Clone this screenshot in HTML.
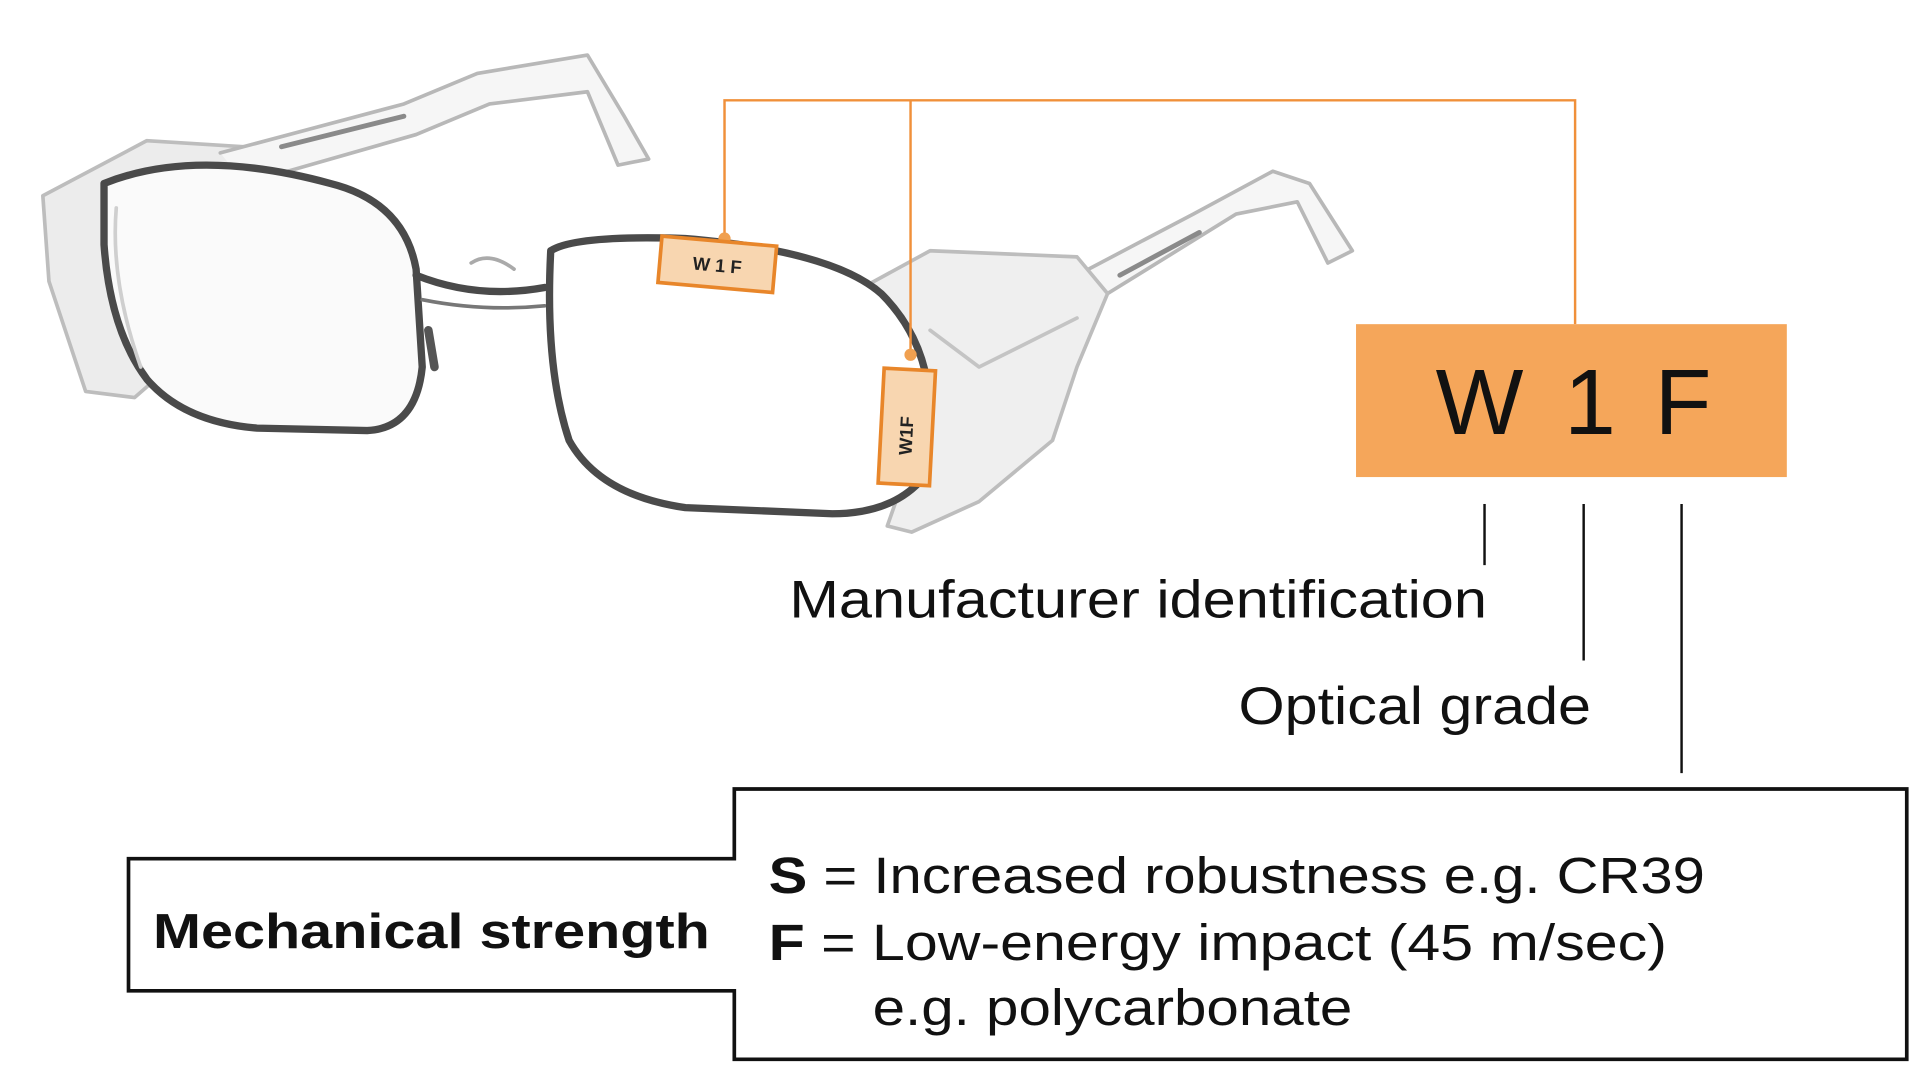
<!DOCTYPE html>
<html><head><meta charset="utf-8"><style>
html,body{margin:0;padding:0;background:#fff;}
svg{display:block;}
</style></head><body>
<svg width="1919" height="1074" viewBox="0 0 1568 878" preserveAspectRatio="none" xmlns="http://www.w3.org/2000/svg" font-family="Liberation Sans, sans-serif">
<rect width="1568" height="878" fill="#fff"/>
<!-- glasses sketch -->
<g fill="none" stroke-linecap="round" stroke-linejoin="round">
  <path d="M35 160 L120 115 L200 120 L215 160 L150 290 L110 325 L70 320 L40 230 Z" fill="#ececec" stroke="#bdbdbd" stroke-width="3"/>
  <path d="M180 125 L330 85 L390 60 L480 45 L510 95 L530 130 L505 135 L480 75 L400 85 L340 110 L200 150" fill="#f6f6f6" stroke="#b8b8b8" stroke-width="3"/>
  <path d="M230 120 L330 95" stroke="#8a8a8a" stroke-width="4"/>
  <path d="M880 225 L975 175 L1040 140 L1070 150 L1105 205 L1085 215 L1060 165 L1010 175 L905 240" fill="#f6f6f6" stroke="#b8b8b8" stroke-width="3"/>
  <path d="M915 225 L980 190" stroke="#8a8a8a" stroke-width="4"/>
  <path d="M705 235 L760 205 L880 210 L905 240 L880 300 L860 360 L800 410 L745 435 L725 430 L760 330 L740 280 Z" fill="#efefef" stroke="#bdbdbd" stroke-width="3"/>
  <path d="M760 270 L800 300 L880 260" stroke="#c4c4c4" stroke-width="3"/>
  <path d="M85 150 Q160 120 270 150 Q330 165 340 220 L345 300 Q340 350 300 352 L210 350 Q150 345 120 310 Q90 270 85 200 Z" stroke="#4a4a4a" stroke-width="6" fill="#fafafa"/>
  <path d="M95 170 Q90 230 115 300" stroke="#cfcfcf" stroke-width="3"/>
  <path d="M340 225 Q390 245 445 235" stroke="#4a4a4a" stroke-width="6"/>
  <path d="M345 245 Q395 255 445 250" stroke="#777" stroke-width="3"/>
  <path d="M350 270 L355 300" stroke="#555" stroke-width="7"/>
  <path d="M468 290 L480 315" stroke="#555" stroke-width="7"/>
  <path d="M385 215 Q400 205 420 220" stroke="#aaa" stroke-width="3"/>
  <path d="M450 205 Q470 192 560 195 Q680 205 720 240 Q760 280 760 340 L755 390 Q730 420 680 420 L560 415 Q490 405 465 360 Q445 300 450 205 Z" stroke="#4a4a4a" stroke-width="6" fill="#fff"/>
</g>
<!-- orange leaders -->
<g stroke="#f0903a" stroke-width="2" fill="none">
  <path d="M592 195 L592 82 L1287 82 L1287 265"/>
  <path d="M744 82 L744 290"/>
</g>
<circle cx="592" cy="195" r="5" fill="#f0a050"/>
<circle cx="744" cy="290" r="5" fill="#f0a050"/>
<g transform="rotate(5 585 217)">
  <rect x="539" y="197" width="94" height="38" fill="#f8d6b0" stroke="#e8862a" stroke-width="3"/>
  <text x="586" y="222" font-size="15" font-weight="bold" text-anchor="middle" fill="#222">W 1 F</text>
</g>
<g transform="rotate(3 740 348)">
  <rect x="720" y="302" width="42" height="94" fill="#f8d6b0" stroke="#e8862a" stroke-width="3"/>
  <text x="0" y="0" font-size="15" font-weight="bold" fill="#222" transform="translate(746 372) rotate(-90)">W1F</text>
</g>
<rect x="1108" y="265" width="352" height="125" fill="#f5a65a"/>
<g font-size="76" fill="#111">
  <text x="1173" y="355">W</text>
  <text x="1278" y="355">1</text>
  <text x="1352" y="355">F</text>
</g>
<g stroke="#111" stroke-width="2">
  <line x1="1213" y1="412" x2="1213" y2="462"/>
  <line x1="1294" y1="412" x2="1294" y2="540"/>
  <line x1="1374" y1="412" x2="1374" y2="632"/>
</g>
<text x="645" y="505" font-size="43" fill="#111" textLength="570" lengthAdjust="spacingAndGlyphs">Manufacturer identification</text>
<text x="1012" y="592" font-size="43" fill="#111" textLength="288" lengthAdjust="spacingAndGlyphs">Optical grade</text>
<path d="M600 645 L1558 645 L1558 866 L600 866 L600 810 L105 810 L105 702 L600 702 Z" fill="#fff" stroke="#111" stroke-width="3"/>
<text x="125" y="775" font-size="40" font-weight="bold" fill="#111" textLength="455" lengthAdjust="spacingAndGlyphs">Mechanical strength</text>
<g font-size="42" fill="#111">
  <text x="628" y="730" textLength="765" lengthAdjust="spacingAndGlyphs"><tspan font-weight="bold">S</tspan> = Increased robustness e.g. CR39</text>
  <text x="628" y="785" textLength="734" lengthAdjust="spacingAndGlyphs"><tspan font-weight="bold">F</tspan> = Low-energy impact (45 m/sec)</text>
  <text x="713" y="838" textLength="392" lengthAdjust="spacingAndGlyphs">e.g. polycarbonate</text>
</g>
</svg>
</body></html>
